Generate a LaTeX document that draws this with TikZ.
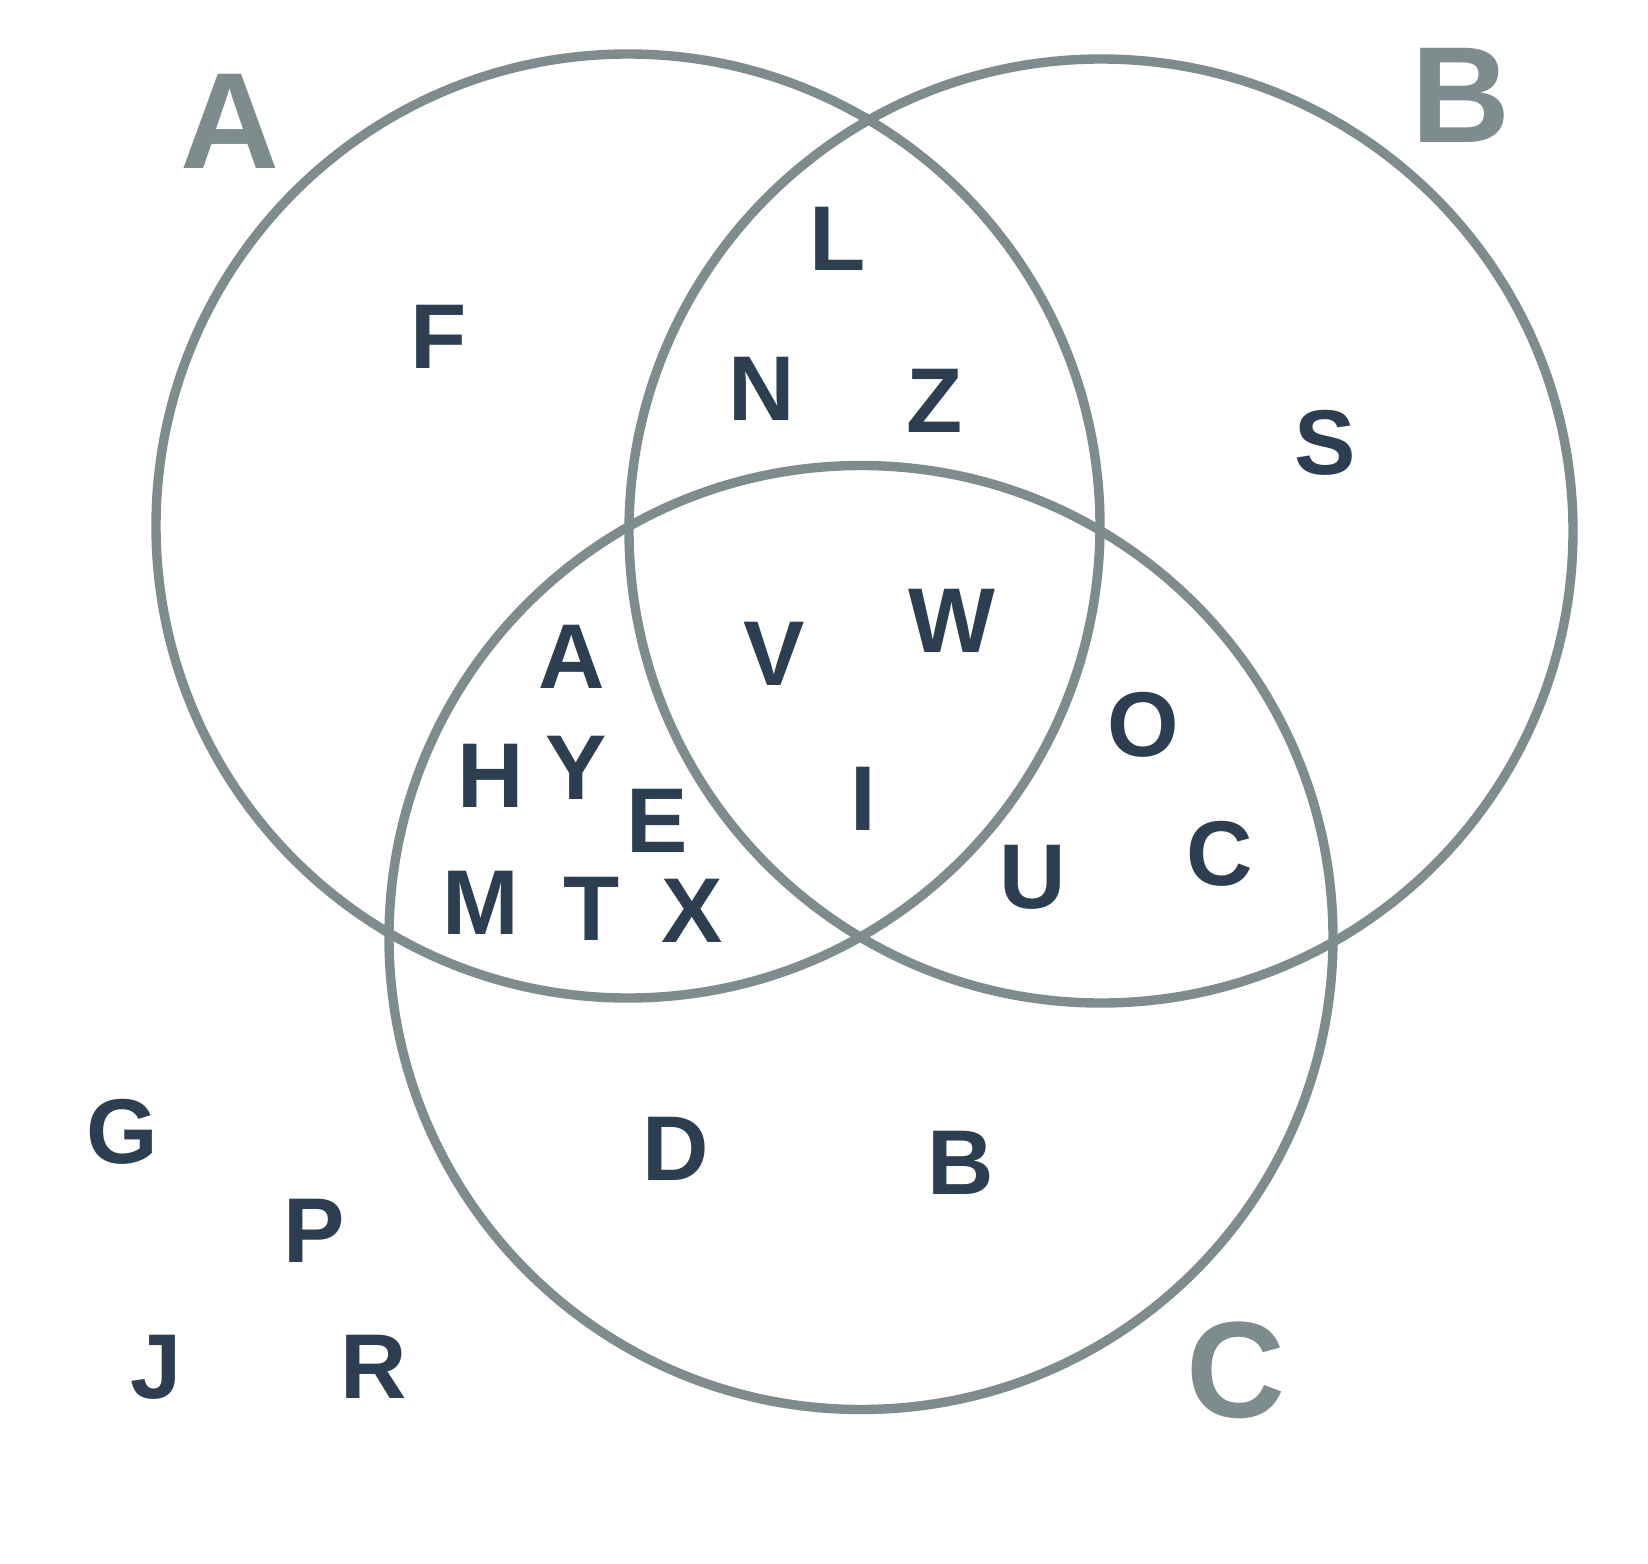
\documentclass[tikz,border=0pt]{standalone}
\usepackage{fontspec}
\setmainfont{Liberation Sans}
\definecolor{ring}{HTML}{7F8C8D}
\definecolor{ink}{HTML}{2C3E50}
\begin{document}
\begin{tikzpicture}[x=0.5pt,y=-0.5pt,
  setring/.style={draw=ring,line width=4.7pt},
  item/.style={inner sep=0pt,text=ink,font=\fontsize{46}{46}\selectfont\bfseries},
  setlabel/.style={inner sep=0pt,text=ring,font=\fontsize{68.5}{68.5}\selectfont\bfseries}]
\useasboundingbox (0,0) rectangle (1648,1563);
% sets
\draw[setring] (628,526) circle[radius=472];
\draw[setring] (1101,531) circle[radius=472];
\draw[setring] (861,937.5) circle[radius=472];
% set labels
\node[setlabel] (labA) at (230,121) {A};
\node[setlabel] (labB) at (1461,95) {B};
\node[setlabel] (labC) at (1236,1370) {C};
% elements
\node[item] (eF) at (439,337) {F};
\node[item] (eL) at (838,238.5) {L};
\node[item] (eN) at (762,388.5) {N};
\node[item] (eZ) at (935,400.5) {Z};
\node[item] (eS) at (1325,442.5) {S};
\node[item] (eA) at (572,657) {A};
\node[item] (eV) at (774,654) {V};
\node[item] (eW) at (952,620.5) {W};
\node[item] (eO) at (1143,725) {O};
\node[item] (eH) at (490.5,776) {H};
\node[item] (eY) at (576.5,767.5) {Y};
\node[item] (eE) at (657,821) {E};
\node[item] (eI) at (863,798.5) {I};
\node[item] (eC) at (1220,854) {C};
\node[item] (eU) at (1033,877.5) {U};
\node[item] (eM) at (481,903) {M};
\node[item] (eT) at (592,908.5) {T};
\node[item] (eX) at (692,911) {X};
\node[item] (eG) at (122,1132) {G};
\node[item] (eD) at (676,1149) {D};
\node[item] (eB) at (961,1163) {B};
\node[item] (eP) at (314,1231) {P};
\node[item] (eJ) at (156,1367.5) {J};
\node[item] (eR) at (374,1367) {R};
\end{tikzpicture}
\end{document}
